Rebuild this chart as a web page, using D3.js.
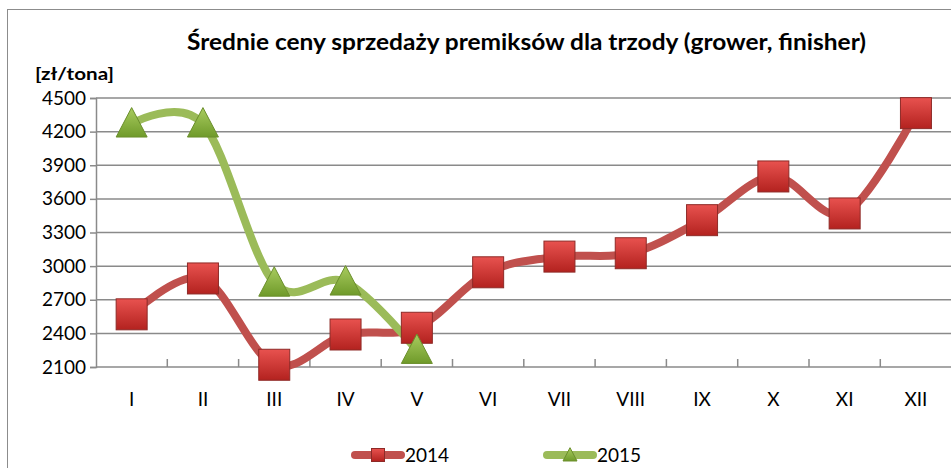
<!DOCTYPE html>
<html>
<head>
<meta charset="utf-8">
<script src="https://cdnjs.cloudflare.com/ajax/libs/d3/7.8.5/d3.min.js"></script>
<style>
  body { margin: 0; background: #fff; }
  svg { display: block; font-family: Lato, "Open Sans", sans-serif; }
</style>
</head>
<body>
<div id="chart"></div>
<script>
// data
const months = ["I", "II", "III", "IV", "V", "VI", "VII", "VIII", "IX", "X", "XI", "XII"];
const values2014 = [2570, 2890, 2120, 2390, 2450, 2945, 3085, 3115, 3410, 3800, 3470, 4365];
const values2015 = [4270, 4270, 2850, 2860, 2250];
const yTicks = [2100, 2400, 2700, 3000, 3300, 3600, 3900, 4200, 4500];

const width = 951, height = 468;
const margin = { top: 98, right: 0, bottom: 101, left: 96 };

const svg = d3.select("#chart").append("svg")
  .attr("width", width)
  .attr("height", height);

// gradients for the markers
const defs = svg.append("defs");
function addGradient(id, c1, c2) {
  const g = defs.append("linearGradient").attr("id", id)
    .attr("x1", 0).attr("y1", 0).attr("x2", 0).attr("y2", 1);
  g.append("stop").attr("offset", "0%").attr("stop-color", c1);
  g.append("stop").attr("offset", "100%").attr("stop-color", c2);
}
addGradient("redGrad", "#e8524f", "#b3221f");
addGradient("greenGrad", "#a9cc5f", "#6f9a2a");

// outer frame
svg.append("rect")
  .attr("x", 7.5).attr("y", 9.5)
  .attr("width", width).attr("height", height)
  .attr("fill", "none").attr("stroke", "#8c8c8c");

const x = d3.scaleBand()
  .domain(months)
  .range([margin.left, margin.left + 855.6]);

const y = d3.scaleLinear()
  .domain([2100, 4500])
  .range([height - margin.bottom, margin.top]);

// title
svg.append("text")
  .attr("x", 187).attr("y", 50)
  .attr("textLength", 679)
  .attr("lengthAdjust", "spacingAndGlyphs")
  .style("font-size", "22px").style("font-weight", "bold")
  .text("Średnie ceny sprzedaży premiksów dla trzody (grower, finisher)");

svg.append("text")
  .attr("x", 35).attr("y", 80)
  .attr("textLength", 79)
  .attr("lengthAdjust", "spacingAndGlyphs")
  .style("font-size", "17px").style("font-weight", "bold")
  .text("[zł/tona]");

// gridlines
svg.append("g")
  .selectAll("line")
  .data(yTicks.slice(1))
  .join("line")
  .attr("x1", margin.left).attr("x2", width)
  .attr("y1", d => y(d)).attr("y2", d => y(d))
  .attr("stroke", "#8a8a8a").attr("stroke-width", 1.5);

// y axis
const yAxis = svg.append("g")
  .attr("transform", "translate(" + margin.left + ",0)")
  .call(d3.axisLeft(y).tickValues(yTicks).tickSize(6).tickPadding(4).tickFormat(d3.format("d")));
yAxis.selectAll("line, path").attr("stroke", "#8a8a8a").attr("stroke-width", 1.5);
yAxis.selectAll("text").style("font-size", "19px").attr("fill", "#000")
  .style("font-family", "Lato, sans-serif");

// x axis line and inside ticks at category boundaries
const xg = svg.append("g");
xg.append("line")
  .attr("x1", margin.left).attr("x2", width)
  .attr("y1", y(2100)).attr("y2", y(2100))
  .attr("stroke", "#8a8a8a").attr("stroke-width", 1.5);
xg.selectAll(".tk")
  .data(months.slice(1))
  .join("line")
  .attr("class", "tk")
  .attr("x1", d => x(d)).attr("x2", d => x(d))
  .attr("y1", y(2100)).attr("y2", y(2100) - 8)
  .attr("stroke", "#8a8a8a").attr("stroke-width", 1.5);
xg.selectAll("text")
  .data(months)
  .join("text")
  .attr("x", d => x(d) + x.bandwidth() / 2)
  .attr("y", 406)
  .attr("text-anchor", "middle")
  .style("font-size", "19px")
  .text(d => d);

const line = d3.line()
  .x((d, i) => x(months[i]) + x.bandwidth() / 2)
  .y(d => y(d))
  .curve(d3.curveCardinal.tension(0));

// series 2014
svg.append("path")
  .datum(values2014)
  .attr("d", line)
  .attr("fill", "none")
  .attr("stroke", "#c0504d")
  .attr("stroke-width", 8)
  .attr("stroke-linejoin", "round");

// series 2015
svg.append("path")
  .datum(values2015)
  .attr("d", line)
  .attr("fill", "none")
  .attr("stroke", "#9bbb59")
  .attr("stroke-width", 8)
  .attr("stroke-linejoin", "round");

function drawSquare(g, cx, cy, s) {
  g.append("rect")
    .attr("x", cx - s / 2).attr("y", cy - s / 2)
    .attr("width", s).attr("height", s)
    .attr("fill", "url(#redGrad)")
    .attr("stroke", "#8e2a27").attr("stroke-width", 1);
}
function drawTriangle(g, cx, cy, s) {
  const h = s * 0.95;
  g.append("path")
    .attr("d", "M" + cx + "," + (cy - h * 0.55) +
      "L" + (cx + s / 2) + "," + (cy + h * 0.45) +
      "L" + (cx - s / 2) + "," + (cy + h * 0.45) + "Z")
    .attr("fill", "url(#greenGrad)")
    .attr("stroke", "#6b8f2c").attr("stroke-width", 1);
}

const marks = svg.append("g");
values2014.forEach((v, i) => {
  drawSquare(marks, x(months[i]) + x.bandwidth() / 2, y(v), 31);
});
values2015.forEach((v, i) => {
  drawTriangle(marks, x(months[i]) + x.bandwidth() / 2, y(v), 31);
});

// legend
const legend = svg.append("g");
const legendItems = [
  { name: "2014", color: "#c0504d", x0: 355, type: "square" },
  { name: "2015", color: "#9bbb59", x0: 547, type: "triangle" }
];
legendItems.forEach(d => {
  legend.append("line")
    .attr("x1", d.x0).attr("x2", d.x0 + 46)
    .attr("y1", 455).attr("y2", 455)
    .attr("stroke", d.color).attr("stroke-width", 8)
    .attr("stroke-linecap", "round");
  if (d.type === "square") drawSquare(legend, d.x0 + 23, 455, 13);
  else drawTriangle(legend, d.x0 + 23, 455, 14);
  legend.append("text")
    .attr("x", d.x0 + 50).attr("y", 462)
    .style("font-size", "19px")
    .text(d.name);
});
</script>
</body>
</html>
